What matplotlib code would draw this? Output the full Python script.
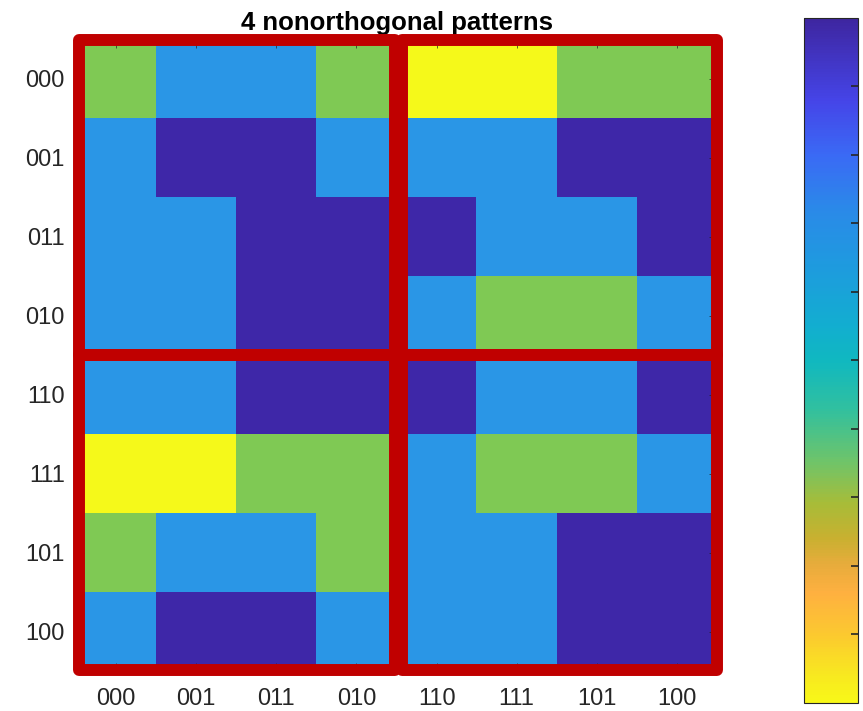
import numpy as np
import matplotlib
matplotlib.use('Agg')
from matplotlib import pyplot as plt
from matplotlib.colors import ListedColormap, LinearSegmentedColormap, Normalize
from matplotlib.cm import ScalarMappable
from matplotlib.patches import Rectangle

plt.rcParams['font.family'] = ['Liberation Sans', 'DejaVu Sans']

title = '4 nonorthogonal patterns'
labels = ['000', '001', '011', '010', '110', '111', '101', '100']

# cell levels: 0 yellow, 1 green, 2 light blue, 3 dark blue
levels = np.array([
    [1, 2, 2, 1, 0, 0, 1, 1],
    [2, 3, 3, 2, 2, 2, 3, 3],
    [2, 2, 3, 3, 3, 2, 2, 3],
    [2, 2, 3, 3, 2, 1, 1, 2],
    [2, 2, 3, 3, 3, 2, 2, 3],
    [0, 0, 1, 1, 2, 1, 1, 2],
    [1, 2, 2, 1, 2, 2, 3, 3],
    [2, 3, 3, 2, 2, 2, 3, 3],
])
level_colors = ['#f5f91a', '#7fc954', '#2a96e6', '#3e27a8']

cbar_ticks = [0.1, 0.2, 0.3, 0.4, 0.5, 0.6, 0.7, 0.8, 0.9]

# flipped parula, yellow at the low end
cmap_stops = [
    (0.00, '#f8f818'), (0.04, '#f8e820'), (0.10, '#fcc830'),
    (0.16, '#feb040'), (0.20, '#e8ac3c'), (0.24, '#c8b030'),
    (0.29, '#a8bc38'), (0.35, '#70c468'), (0.43, '#30c0a0'),
    (0.50, '#10b8c0'), (0.55, '#12aed0'), (0.65, '#2098e0'),
    (0.72, '#2a8ae8'), (0.80, '#3a6af5'), (0.88, '#4545e8'),
    (1.00, '#3e26a0'),
]
parula_r = LinearSegmentedColormap.from_list('parula_r', cmap_stops)

fig = plt.figure(figsize=(8.63, 7.11), dpi=100)
ax = fig.add_axes([0.0881, 0.0563, 0.7427, 0.8881])

ax.imshow(levels, cmap=ListedColormap(level_colors), vmin=-0.5, vmax=3.5,
          aspect='auto', interpolation='nearest')

n = len(labels)
ax.set_xticks(range(n))
ax.set_yticks(range(n))
ax.set_xticklabels(labels, fontsize=17, color='#262626')
ax.set_yticklabels(labels, fontsize=17, color='#262626')
ax.tick_params(direction='in', length=6, width=0.5, color='#262626',
               top=True, right=True, pad=12)
ax.tick_params(axis='y', pad=8)
for s in ax.spines.values():
    s.set_visible(False)

ax.set_title(title, fontsize=18.5, fontweight='bold', pad=7)

# red boxes round the four quadrants
red = '#c00000'
boxes = [(-0.46, -0.5, 3.94, 4.0), (3.57, -0.5, 3.93, 4.0),
         (-0.46, 3.5, 3.94, 3.99), (3.57, 3.5, 3.93, 3.99)]
for x0, y0, w, h in boxes:
    ax.add_patch(Rectangle((x0, y0), w, h, fill=False, edgecolor=red,
                           linewidth=8.6, joinstyle='round', clip_on=False,
                           zorder=5))
ax.set_xlim(-0.5, n - 0.5)
ax.set_ylim(n - 0.5, -0.5)

cax = fig.add_axes([0.9316, 0.0113, 0.0626, 0.9634])
cb = fig.colorbar(ScalarMappable(norm=Normalize(0, 1), cmap=parula_r), cax=cax)
cb.set_ticks(cbar_ticks)
cb.set_ticklabels([''] * len(cbar_ticks))
cax.tick_params(direction='in', length=5, width=1.2, color='#262626')
cb.outline.set_edgecolor('#262626')
cb.outline.set_linewidth(0.8)

fig.savefig('out.png', dpi=100)
